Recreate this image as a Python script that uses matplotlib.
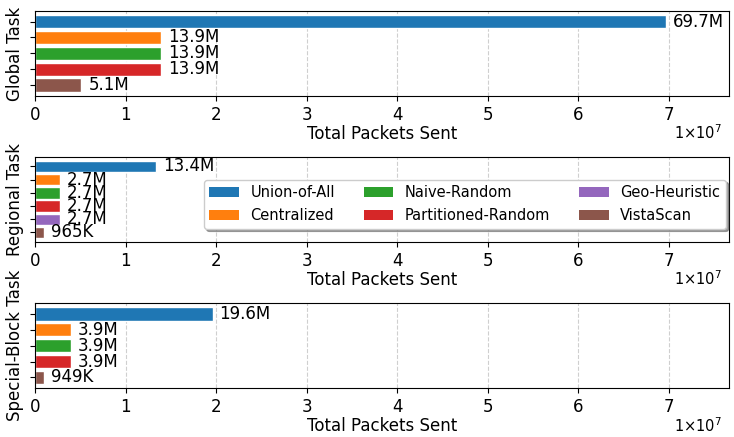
import numpy as np
import matplotlib
matplotlib.use('Agg')
import matplotlib.pyplot as plt
from matplotlib.patches import Patch
from matplotlib.ticker import FuncFormatter

# ── Data ──────────────────────────────────────────────────────────────────────
methods = ['Union-of-All', 'Centralized', 'Naive-Random',
           'Partitioned-Random', 'Geo-Heuristic', 'VistaScan']
colors = ['#1f77b4', '#ff7f0e', '#2ca02c', '#d62728', '#9467bd', '#8c564b']

tasks = ['Global Task', 'Regional Task', 'Special-Block Task']

global_methods = ['Union-of-All', 'Centralized', 'Naive-Random',
                  'Partitioned-Random', 'VistaScan']
global_packets = [69.7e6, 13.9e6, 13.9e6, 13.9e6, 5.1e6]

regional_methods = ['Union-of-All', 'Centralized', 'Naive-Random',
                    'Partitioned-Random', 'Geo-Heuristic', 'VistaScan']
regional_packets = [13.4e6, 2.7e6, 2.7e6, 2.7e6, 2.7e6, 965e3]

special_methods = ['Union-of-All', 'Centralized', 'Naive-Random',
                   'Partitioned-Random', 'VistaScan']
special_packets = [19.6e6, 3.9e6, 3.9e6, 3.9e6, 949e3]

task_data = [(global_methods, global_packets),
             (regional_methods, regional_packets),
             (special_methods, special_packets)]


def fmt(v):
    if v >= 1e6:
        return f'{v / 1e6:.1f}M'
    return f'{v / 1e3:.0f}K'


plt.rcParams['font.size'] = 12
color_of = dict(zip(methods, colors))
xmax = max(max(p) for _, p in task_data) * 1.1

fig, axes = plt.subplots(3, 1, figsize=(7.34, 4.37), dpi=100)
fig.subplots_adjust(left=0.048, right=0.993, top=0.975, bottom=0.112,
                    hspace=0.72)

for ax, task, (ms, vals) in zip(axes, tasks, task_data):
    y = np.arange(len(ms))
    bars = ax.barh(y, vals, height=0.85, color=[color_of[m] for m in ms],
                   edgecolor='white', linewidth=1)
    ax.bar_label(bars, labels=[fmt(v) for v in vals], padding=5, fontsize=12)
    ax.invert_yaxis()
    ax.set_yticks(y)
    ax.set_yticklabels([])
    ax.set_xlim(0, xmax)
    ax.set_ylabel(task, fontsize=12, labelpad=1)
    ax.set_xlabel('Total Packets Sent', fontsize=12, labelpad=1)
    ax.grid(True, axis='x', ls='--', alpha=0.6)
    ax.set_axisbelow(True)
    ax.tick_params(labelsize=12)
    # ticks in units of 1e7, multiplier drawn as a separate note
    ax.xaxis.set_major_formatter(FuncFormatter(lambda v, p: f'{v / 1e7:g}'))
    ax.annotate(r'$1{\times}10^{7}$', xy=(1, 0), xycoords='axes fraction',
                xytext=(-5, -20), textcoords='offset points',
                ha='right', va='top', fontsize=10.5)

handles = [Patch(facecolor=c, label=m) for m, c in zip(methods, colors)]
axes[1].legend(handles=handles, ncol=3, fontsize=10.5, loc='lower right',
               bbox_to_anchor=(0.998, 0.14), borderaxespad=0.1, shadow=True,
               framealpha=1.0)

plt.savefig('out.png', dpi=100)
